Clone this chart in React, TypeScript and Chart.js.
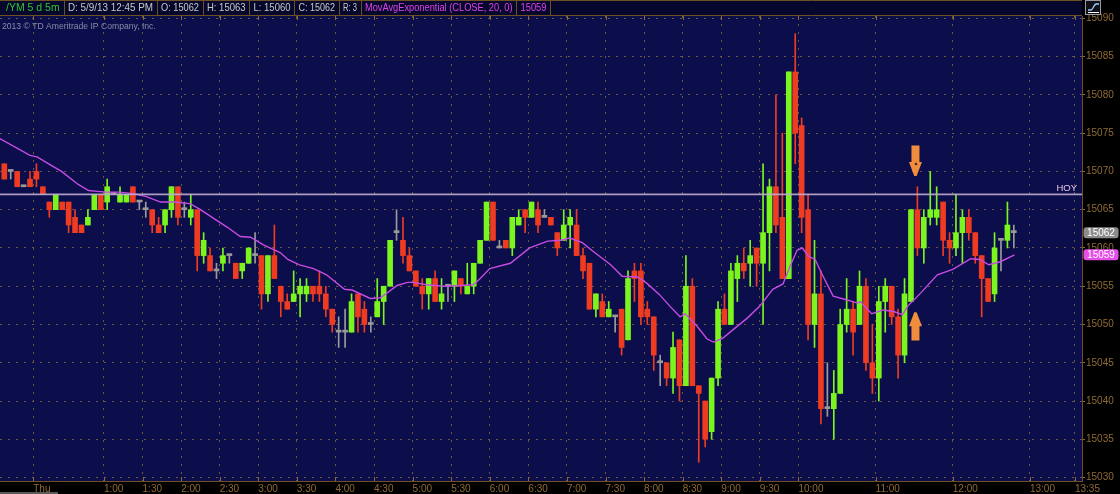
import React, { useEffect, useRef } from "react";
import { Chart, registerables } from "chart.js";

Chart.register(...registerables);

// ---------- data ----------
const symbolLabel = "/YM 5 d 5m";
const lastBarDate = "5/9/13";
const studyLabel = "MovAvgExponential (CLOSE, 20, 0)";
const firstBarMinute = -20; // 23:40 of the previous session day
const barMinutes = 5;

const opens = [
  15071, 15070, 15070, 15068, 15069, 15070, 15068, 15066, 15065, 15066,
  15066, 15064, 15063, 15063, 15065, 15067, 15066, 15067, 15066, 15066,
  15068, 15066, 15065, 15065, 15063, 15063, 15065, 15068, 15065, 15064,
  15065, 15059, 15059, 15057, 15058, 15059, 15058, 15057, 15058, 15059,
  15059, 15054, 15059, 15055, 15053, 15053, 15054, 15054, 15055, 15055,
  15054, 15052, 15049, 15049, 15049, 15054, 15052, 15050, 15051, 15053,
  15055, 15062, 15061, 15059, 15057, 15055, 15054, 15056, 15053, 15055,
  15055, 15056, 15054, 15055, 15058, 15061, 15066, 15060, 15061, 15060,
  15063, 15065, 15064, 15065, 15064, 15064, 15062, 15061, 15063, 15063,
  15059, 15058, 15052, 15053, 15051, 15051, 15052, 15048, 15057, 15057,
  15052, 15051, 15045, 15045, 15043, 15048, 15042, 15055, 15042, 15040,
  15036, 15043, 15052, 15050, 15056, 15058, 15058, 15060, 15058, 15062,
  15068, 15064, 15056, 15083, 15076, 15065, 15050, 15054, 15039, 15039,
  15041, 15050, 15052, 15050, 15055, 15045, 15043, 15053, 15055, 15051,
  15046, 15053, 15065, 15060, 15064, 15064, 15066, 15061, 15060, 15062,
  15064, 15062, 15059, 15056, 15054, 15061, 15061, 15062,
];
const highs = [
  15071, 15070, 15070, 15068, 15070, 15071, 15068, 15066, 15067, 15066,
  15066, 15065, 15063, 15065, 15067, 15067, 15069, 15067, 15068, 15067,
  15068, 15066, 15066, 15065, 15064, 15065, 15068, 15068, 15066, 15067,
  15065, 15062, 15060, 15058, 15060, 15059, 15058, 15058, 15060, 15062,
  15059, 15059, 15063, 15055, 15054, 15057, 15056, 15056, 15055, 15057,
  15055, 15052, 15051, 15052, 15054, 15054, 15053, 15051, 15056, 15055,
  15061, 15065, 15064, 15060, 15057, 15056, 15056, 15057, 15056, 15055,
  15057, 15056, 15058, 15058, 15061, 15066, 15066, 15061, 15061, 15064,
  15065, 15065, 15066, 15066, 15065, 15064, 15062, 15065, 15065, 15065,
  15060, 15058, 15054, 15054, 15053, 15051, 15052, 15057, 15058, 15058,
  15053, 15051, 15046, 15045, 15049, 15048, 15059, 15056, 15042, 15040,
  15043, 15053, 15054, 15058, 15059, 15060, 15061, 15060, 15071, 15069,
  15080, 15075, 15083, 15088, 15077, 15067, 15061, 15057, 15045, 15044,
  15052, 15056, 15053, 15057, 15056, 15050, 15055, 15056, 15055, 15052,
  15056, 15065, 15068, 15065, 15070, 15068, 15066, 15062, 15067, 15065,
  15065, 15062, 15059, 15056, 15062, 15061, 15066, 15063,
];
const lows = [
  15069, 15069, 15068, 15068, 15068, 15068, 15067, 15064, 15065, 15065,
  15062, 15062, 15062, 15063, 15065, 15065, 15065, 15067, 15066, 15066,
  15066, 15065, 15064, 15062, 15062, 15062, 15064, 15063, 15064, 15063,
  15057, 15058, 15057, 15056, 15057, 15058, 15056, 15056, 15058, 15058,
  15052, 15053, 15056, 15051, 15052, 15053, 15051, 15053, 15053, 15053,
  15051, 15049, 15047, 15047, 15049, 15049, 15049, 15049, 15051, 15050,
  15055, 15061, 15058, 15057, 15055, 15052, 15052, 15053, 15052, 15053,
  15053, 15054, 15054, 15054, 15058, 15061, 15061, 15060, 15060, 15059,
  15063, 15062, 15064, 15062, 15064, 15063, 15059, 15061, 15060, 15059,
  15056, 15052, 15051, 15051, 15051, 15049, 15046, 15048, 15053, 15050,
  15050, 15044, 15042, 15042, 15041, 15040, 15042, 15042, 15032, 15034,
  15035, 15042, 15050, 15050, 15053, 15056, 15055, 15055, 15050, 15057,
  15062, 15056, 15056, 15071, 15062, 15048, 15047, 15037, 15038, 15035,
  15041, 15049, 15046, 15050, 15044, 15041, 15040, 15049, 15050, 15043,
  15045, 15053, 15059, 15058, 15063, 15063, 15059, 15058, 15059, 15058,
  15061, 15058, 15051, 15053, 15053, 15057, 15060, 15060,
];
const closes = [
  15069, 15070, 15068, 15068, 15068, 15069, 15067, 15065, 15067, 15065,
  15063, 15062, 15062, 15064, 15067, 15065, 15068, 15067, 15067, 15067,
  15066, 15066, 15065, 15063, 15062, 15065, 15068, 15064, 15065, 15065,
  15059, 15061, 15057, 15057, 15059, 15059, 15056, 15058, 15060, 15059,
  15054, 15059, 15056, 15053, 15052, 15054, 15055, 15055, 15054, 15054,
  15052, 15050, 15049, 15049, 15053, 15051, 15050, 15050, 15053, 15055,
  15061, 15062, 15059, 15057, 15055, 15054, 15056, 15053, 15054, 15055,
  15057, 15055, 15055, 15058, 15061, 15066, 15061, 15060, 15060, 15064,
  15064, 15064, 15066, 15063, 15064, 15063, 15060, 15063, 15064, 15059,
  15057, 15052, 15054, 15051, 15052, 15051, 15047, 15056, 15056, 15051,
  15051, 15046, 15045, 15043, 15047, 15042, 15055, 15042, 15041, 15035,
  15043, 15052, 15050, 15057, 15058, 15057, 15059, 15058, 15062, 15068,
  15063, 15056, 15083, 15075, 15064, 15050, 15054, 15039, 15039, 15041,
  15050, 15052, 15049, 15055, 15045, 15043, 15053, 15055, 15051, 15046,
  15054, 15065, 15060, 15064, 15065, 15065, 15061, 15060, 15062, 15064,
  15062, 15059, 15056, 15053, 15060, 15061, 15063, 15062,
];

// EMA(20) readings: minutes from midnight, value
const emaTimes = [
  -21, 2.5, 8, 18, 27, 40, 48, 55, 62, 72,
  83, 93, 104, 114, 127, 135, 145, 156, 166, 174,
  184, 197, 203, 212, 223, 233, 247, 253, 267, 275,
  288, 296, 300, 311, 324, 337, 347, 352, 360, 376,
  391, 405, 415, 422, 432, 440, 454, 463, 475, 482,
  492, 500, 508, 512, 521, 529, 534, 541, 549, 560,
  570, 580, 588, 594, 599, 603, 608, 613, 618, 627,
  638, 646, 648, 657, 666, 674, 681, 685, 695, 708,
  720, 734, 741, 748, 757, 768,
];
const emaValues = [
  15074.3, 15072.1, 15071.9, 15070.9, 15070.0, 15068.3, 15067.5, 15067.4, 15067.3, 15067.3,
  15067.1, 15066.7, 15066.0, 15066.0, 15065.8, 15065.0, 15063.9, 15062.7, 15061.5, 15061.4,
  15060.4, 15059.4, 15058.5, 15057.8, 15057.3, 15056.5, 15054.6, 15054.5, 15053.4, 15053.5,
  15055.1, 15055.5, 15055.5, 15055.2, 15055.0, 15055.1, 15055.2, 15055.9, 15057.3, 15058.0,
  15060.0, 15060.9, 15061.0, 15061.3, 15060.7, 15059.6, 15057.8, 15056.3, 15056.2, 15055.4,
  15053.9, 15052.4, 15051.0, 15051.4, 15049.8, 15048.1, 15047.7, 15048.2, 15049.3, 15050.8,
  15052.4, 15054.6, 15055.3, 15057.8, 15059.7, 15060.0, 15058.9, 15058.5, 15056.7, 15053.7,
  15053.2, 15052.8, 15053.0, 15051.4, 15051.9, 15051.7, 15051.3, 15052.4, 15054.1, 15056.5,
  15057.2, 15058.6, 15058.5, 15057.8, 15058.2, 15059.1,
];

const xTickMinutes = [5, 60, 90, 120, 150, 180, 210, 240, 270, 300, 330, 360, 390, 420, 450, 480, 510, 540, 570, 600, 660, 720, 780, 815];
const xTickLabels = ["Thu", "1:00", "1:30", "2:00", "2:30", "3:00", "3:30", "4:00", "4:30", "5:00", "5:30", "6:00", "6:30", "7:00", "7:30", "8:00", "8:30", "9:00", "9:30", "10:00", "11:00", "12:00", "13:00", "13:35"];
const yTickValues = [15030, 15035, 15040, 15045, 15050, 15055, 15060, 15065, 15070, 15075, 15080, 15085, 15090];

const hoyLevel = 15067;
const arrowMinutes = [691, 691];
const arrowFrom = [15073.4, 15047.9];
const arrowTo = [15069.4, 15051.6];

// ---------- style ----------
const FONT = "'Liberation Sans', Arial, sans-serif";
const PLOT_BG = "#0b0e4a";
const HEADER_BG = "#06072c";
const BROWN = "#6e5022";
const AXIS_TEXT = "#8f6b34";
const GRID = "rgba(125,98,58,0.85)";
const UP = "#7cf51f";
const DOWN = "#ee3b22";
const FLAT = "#9a9a9a";
const EMA_COLOR = "#c64ce2";
const ARROW = "#f08c3c";

const X_MIN = -20.84;
const X_MAX = 820.5;
const Y_MIN = 15029.55;
const Y_MAX = 15090.31;

function clock12(m: number) {
  const mm = ((m % 1440) + 1440) % 1440;
  const h = Math.floor(mm / 60);
  const mi = mm % 60;
  let h12 = h % 12;
  if (h12 === 0) h12 = 12;
  return `${h12}:${String(mi).padStart(2, "0")} ${h >= 12 ? "PM" : "AM"}`;
}

function roundRect(ctx: any, x: number, y: number, w: number, h: number, r: number) {
  ctx.beginPath();
  ctx.moveTo(x + r, y);
  ctx.lineTo(x + w - r, y);
  ctx.quadraticCurveTo(x + w, y, x + w, y + r);
  ctx.lineTo(x + w, y + h - r);
  ctx.quadraticCurveTo(x + w, y + h, x + w - r, y + h);
  ctx.lineTo(x + r, y + h);
  ctx.quadraticCurveTo(x, y + h, x, y + h - r);
  ctx.lineTo(x, y + r);
  ctx.quadraticCurveTo(x, y, x + r, y);
  ctx.closePath();
}

const decorPlugin = {
  id: "tosDecor",
  beforeDraw(chart: any) {
    const { ctx, chartArea: a, width, height } = chart;
    ctx.save();
    ctx.fillStyle = "#000";
    ctx.fillRect(0, 0, width, height);
    ctx.fillStyle = PLOT_BG;
    ctx.fillRect(a.left, a.top, a.right - a.left, a.bottom - a.top);
    ctx.restore();
  },
  afterDatasetsDraw(chart: any) {
    const { ctx, chartArea: a, scales } = chart;
    const xs = scales.x;
    const ys = scales.y;
    ctx.save();
    // HOY line
    const hy = ys.getPixelForValue(hoyLevel);
    ctx.strokeStyle = "rgba(190,172,206,0.9)";
    ctx.lineWidth = 1.6;
    ctx.beginPath();
    ctx.moveTo(a.left, hy);
    ctx.lineTo(a.right, hy);
    ctx.stroke();
    ctx.font = `9.5px ${FONT}`;
    ctx.fillStyle = "#e8c6e8";
    ctx.textAlign = "right";
    ctx.textBaseline = "middle";
    ctx.fillText("HOY", a.right - 5, hy - 6.5);

    // arrows
    ctx.fillStyle = ARROW;
    for (let i = 0; i < arrowMinutes.length; i++) {
      const x = xs.getPixelForValue(arrowMinutes[i]);
      const y0 = ys.getPixelForValue(arrowFrom[i]);
      const y1 = ys.getPixelForValue(arrowTo[i]);
      const dir = y1 > y0 ? 1 : -1;
      const headLen = 14;
      const yh = y1 - dir * headLen;
      ctx.beginPath();
      ctx.moveTo(x - 4, y0);
      ctx.lineTo(x + 4, y0);
      ctx.lineTo(x + 4, yh);
      ctx.lineTo(x + 6.5, yh);
      ctx.lineTo(x + 1.2, y1);
      ctx.lineTo(x - 1.2, y1);
      ctx.lineTo(x - 6.5, yh);
      ctx.lineTo(x - 4, yh);
      ctx.closePath();
      ctx.fill();
      if (dir > 0) {
        ctx.fillStyle = "#4a2a18";
        ctx.beginPath();
        ctx.arc(x + 0.5, yh + 2, 1.3, 0, Math.PI * 2);
        ctx.fill();
        ctx.fillStyle = ARROW;
      }
    }

    // copyright
    ctx.font = `8.6px ${FONT}`;
    ctx.fillStyle = "#8a8aa8";
    ctx.textAlign = "left";
    ctx.textBaseline = "middle";
    ctx.fillText("2013 \u00a9 TD Ameritrade IP Company, Inc.", 2, 27);
    ctx.restore();
  },
  afterDraw(chart: any) {
    const { ctx, chartArea: a, scales, height } = chart;
    const xs = scales.x;
    const ys = scales.y;
    const last = closes.length - 1;
    ctx.save();

    // small solid tick marks at top and bottom of vertical grid lines
    ctx.strokeStyle = "#8a6a36";
    ctx.lineWidth = 1;
    xs.ticks.forEach((t: any) => {
      const px = Math.round(xs.getPixelForValue(t.value)) + 0.5;
      ctx.beginPath();
      ctx.moveTo(px, a.top);
      ctx.lineTo(px, a.top + 4);
      ctx.moveTo(px, a.bottom - 4);
      ctx.lineTo(px, a.bottom);
      ctx.stroke();
    });

    // header bar
    ctx.fillStyle = HEADER_BG;
    ctx.fillRect(0, 0, a.right, a.top);
    ctx.strokeStyle = BROWN;
    ctx.beginPath();
    ctx.moveTo(0, 0.5);
    ctx.lineTo(a.right, 0.5);
    ctx.moveTo(0, a.top - 0.5);
    ctx.lineTo(a.right, a.top - 0.5);
    ctx.stroke();

    const emaLast = Math.round(emaValues[emaValues.length - 1]);
    const items = [
      { text: symbolLabel, color: "#33c433", x0: 0 },
      { text: `D: ${lastBarDate} ${clock12(firstBarMinute + barMinutes * last)}`, color: "#c8c8c8", x0: 63.5 },
      { text: `O: ${opens[last]}`, color: "#c8c8c8", x0: 156.5 },
      { text: `H: ${highs[last]}`, color: "#c8c8c8", x0: 202.5 },
      { text: `L: ${lows[last]}`, color: "#c8c8c8", x0: 249 },
      { text: `C: ${closes[last]}`, color: "#c8c8c8", x0: 294 },
      { text: `R: ${highs[last] - lows[last]}`, color: "#c8c8c8", x0: 338.5 },
      { text: studyLabel, color: "#e040ee", x0: 360.5 },
      { text: String(emaLast), color: "#e040ee", x0: 516 },
    ];
    const ends = [63.5, 156.5, 202.5, 249, 294, 338.5, 360.5, 516, 550];
    ctx.font = `10.5px ${FONT}`;
    ctx.textBaseline = "middle";
    ctx.textAlign = "left";
    items.forEach((it, i) => {
      ctx.fillStyle = it.color;
      const w = ends[i] - it.x0 - 8;
      ctx.fillText(it.text, it.x0 + (i === 0 ? 6 : 4.5), 8.5, w);
      ctx.strokeStyle = BROWN;
      ctx.beginPath();
      ctx.moveTo(Math.round(ends[i]) + 0.5, 0);
      ctx.lineTo(Math.round(ends[i]) + 0.5, a.top);
      ctx.stroke();
    });

    // top-right icon
    ctx.fillStyle = "#101018";
    ctx.fillRect(1085, 0, 16, 15);
    ctx.strokeStyle = "#9a9aa6";
    ctx.strokeRect(1085.5, 0.5, 15, 14);
    ctx.strokeStyle = "#9fd0ff";
    ctx.lineWidth = 1.3;
    ctx.beginPath();
    ctx.moveTo(1088, 10);
    ctx.lineTo(1091, 10);
    ctx.bezierCurveTo(1093, 10, 1094, 4, 1096, 4);
    ctx.lineTo(1099, 4);
    ctx.stroke();
    ctx.strokeStyle = "#ffffff";
    ctx.lineWidth = 1;
    ctx.beginPath();
    ctx.moveTo(1088, 12.5);
    ctx.lineTo(1099, 12.5);
    ctx.stroke();

    // price tags
    const tag = (val: number, bg: string) => {
      const py = ys.getPixelForValue(val);
      ctx.fillStyle = bg;
      roundRect(ctx, a.right + 1.5, py - 5.5, 35, 11, 3);
      ctx.fill();
      ctx.fillStyle = "#ffffff";
      ctx.font = `10px ${FONT}`;
      ctx.textAlign = "center";
      ctx.textBaseline = "middle";
      ctx.fillText(String(Math.round(val)), a.right + 19, py + 0.5);
    };
    tag(closes[last], "#8c8c8c");
    tag(emaValues[emaValues.length - 1], "#e64ee8");

    // scroll bar
    ctx.fillStyle = "#5a5a5a";
    ctx.fillRect(0, height - 2, 58, 2);
    ctx.restore();
  },
};

export default function App() {
  const canvasRef = useRef<HTMLCanvasElement | null>(null);

  useEffect(() => {
    const canvas = canvasRef.current;
    if (!canvas) return;
    const mids = opens.map((_, i) => firstBarMinute + barMinutes * i + barMinutes / 2);
    const colors = opens.map((o, i) => (closes[i] > o ? UP : closes[i] < o ? DOWN : FLAT));

    const chart = new Chart(canvas, {
      type: "bar",
      data: {
        datasets: [
          {
            type: "line",
            label: "EMA",
            data: emaTimes.map((t, i) => ({ x: t, y: emaValues[i] })),
            borderColor: EMA_COLOR,
            borderWidth: 1.4,
            pointRadius: 0,
            tension: 0,
            order: 1,
          } as any,
          {
            type: "bar",
            label: "body",
            data: mids.map((m, i) => ({ x: m, y: [opens[i], closes[i]] })),
            backgroundColor: colors,
            borderWidth: 0,
            barThickness: 5,
            minBarLength: 2,
            grouped: false,
            order: 2,
          } as any,
          {
            type: "bar",
            label: "wick",
            data: mids.map((m, i) => ({ x: m, y: [lows[i], highs[i]] })),
            backgroundColor: colors,
            borderWidth: 0,
            barThickness: 1,
            grouped: false,
            order: 3,
          } as any,
        ],
      },
      options: {
        animation: false,
        responsive: false,
        events: [],
        layout: { padding: { top: 16, left: 0, right: 0, bottom: 0 } },
        plugins: {
          legend: { display: false },
          tooltip: { enabled: false },
          title: { display: false },
        },
        scales: {
          x: {
            type: "linear",
            min: X_MIN,
            max: X_MAX,
            offset: false,
            afterBuildTicks: (s: any) => {
              s.ticks = xTickMinutes.map((v) => ({ value: v }));
            },
            afterFit: (s: any) => {
              s.height = 13;
            },
            ticks: {
              autoSkip: false,
              maxRotation: 0,
              minRotation: 0,
              align: "start",
              padding: 2,
              color: AXIS_TEXT,
              font: { family: FONT, size: 10 },
              callback: (_v: any, i: number) => xTickLabels[i] ?? "",
            },
            grid: { offset: false, color: GRID, lineWidth: 1, drawTicks: false },
            border: { display: true, color: BROWN, width: 1, dash: [2, 6] },
          },
          y: {
            type: "linear",
            position: "right",
            min: Y_MIN,
            max: Y_MAX,
            beginAtZero: false,
            afterBuildTicks: (s: any) => {
              s.ticks = yTickValues.map((v) => ({ value: v }));
            },
            afterFit: (s: any) => {
              s.width = 38;
            },
            ticks: {
              color: AXIS_TEXT,
              padding: 1,
              font: { family: FONT, size: 10 },
              callback: (v: any) => String(v),
            },
            grid: { color: GRID, lineWidth: 1, drawTicks: true, tickLength: 3, tickColor: "#8a6a36", tickWidth: 1 },
            border: { display: true, color: BROWN, width: 1, dash: [2, 6] },
          },
        },
      } as any,
      plugins: [decorPlugin as any],
    });
    return () => chart.destroy();
  }, []);

  return (
    <div style={{ position: "fixed", left: 0, top: 0, width: 1120, height: 494, background: "#000" }}>
      <canvas ref={canvasRef} width={1120} height={494} style={{ display: "block" }} />
    </div>
  );
}
